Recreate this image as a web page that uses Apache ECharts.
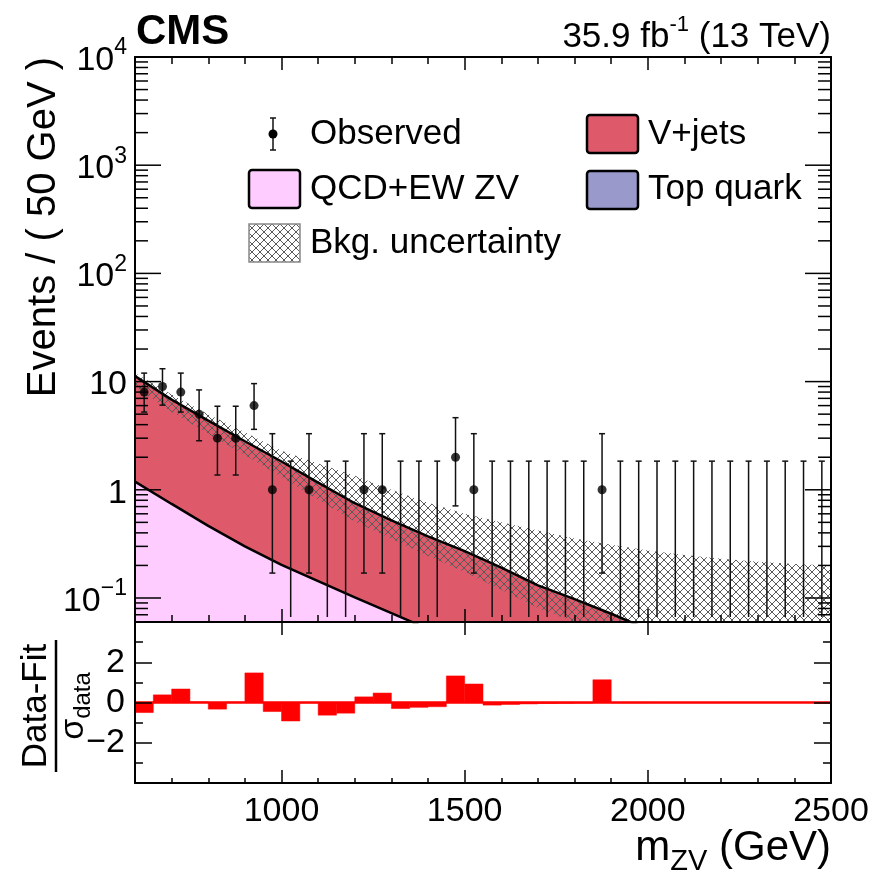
<!DOCTYPE html>
<html><head><meta charset="utf-8">
<script src="https://cdn.jsdelivr.net/npm/echarts@6/dist/echarts.min.js"></script>
<style>html,body{margin:0;padding:0;background:#fff}#c{width:876px;height:881px}</style>
</head><body><div id="c"></div><script>
// ---------------- data ----------------
const binWidth = 50;
const massBins = [625,675,725,775,825,875,925,975,1025,1075,1125,1175,1225,1275,1325,1375,1425,1475,1525,1575,1625,1675,1725,1775,1825,1875,1925,1975,2025,2075,2125,2175,2225,2275,2325,2375,2425,2475];
const observed = [8,9,8,5,3,3,6,1,0,1,0,0,1,1,0,0,0,2,1,0,0,0,0,0,0,1,0,0,0,0,0,0,0,0,0,0,0,0];
const obsErrLow = [5.23,6.06,5.23,2.84,1.37,1.37,3.62,0.17,0,0.17,0,0,0.17,0.17,0,0,0,0.71,0.17,0,0,0,0,0,0,0.17,0,0,0,0,0,0,0,0,0,0,0,0];
const obsErrHigh = [11.98,13.15,11.98,8.38,5.92,5.92,9.58,3.30,1.84,3.30,1.84,1.84,3.30,3.30,1.84,1.84,1.84,4.64,3.30,1.84,1.84,1.84,1.84,1.84,1.84,3.30,1.84,1.84,1.84,1.84,1.84,1.84,1.84,1.84,1.84,1.84,1.84,1.84];
const pullValues = [-0.5,0.38,0.67,0.03,-0.33,0.02,1.47,-0.45,-0.92,-0.02,-0.63,-0.53,0.28,0.47,-0.3,-0.24,-0.21,1.32,0.92,-0.13,-0.1,-0.07,-0.05,-0.04,-0.03,1.13,-0.02,-0.02,-0.01,-0.01,-0.01,-0.01,0,0,0,0,0,0];

const fitMass = [600,700,800,900,1000,1100,1200,1300,1400,1500,1600,1700,1800,1900,2000,2100,2200,2300,2400,2500];
const topQuark = [0.03,0.02,0.014,0.01,0.007,0.005,0.0035,0.0025,0.0018,0.0013,0.001,0.0008,0.0006,0.0005,0.0004,0.0003,0.00025,0.0002,0.00015,0.0001];
const qcdEwZV = [1.16,0.72,0.45,0.29,0.195,0.138,0.098,0.07,0.05,0.036,0.026,0.019,0.014,0.010,0.007,0.005,0.0037,0.0027,0.002,0.0014];
const vJets = [10.04,6.08,3.9,2.51,1.625,1.02,0.65,0.45,0.32,0.234,0.164,0.111,0.083,0.061,0.044,0.032,0.023,0.016,0.012,0.0086];
const bkgUncUp = [12.0,7.6,5.0,3.4,2.3,1.75,1.35,1.0,0.76,0.6,0.5,0.42,0.355,0.31,0.275,0.25,0.23,0.216,0.206,0.2];
const bkgUncDown = [8.9,5.25,3.3,2.1,1.32,0.81,0.51,0.355,0.245,0.174,0.119,0.081,0.059,0.042,0.03,0.021,0.015,0.011,0.008,0.006];

const xMajorTicks = [1000,1500,2000,2500];
const yMin = 0.06, yMax = 10000;

// ---------------- helpers ----------------
const FONT = '"Liberation Sans", Arial, Helvetica, sans-serif';
const zip = (xs, ys) => xs.map((x, i) => [x, ys[i]]);
const cumTop = topQuark.slice();
const cumZV = topQuark.map((t, i) => t + qcdEwZV[i]);
const cumTotal = cumZV.map((t, i) => t + vJets[i]);

function makeHatch() {
  const s = 8, c = document.createElement('canvas');
  c.width = s; c.height = s;
  const g = c.getContext('2d');
  g.strokeStyle = '#5a5a5a'; g.lineWidth = 1;
  g.beginPath(); g.moveTo(0, 0); g.lineTo(s, s); g.moveTo(s, 0); g.lineTo(0, s); g.stroke();
  return c;
}
const hatch = makeHatch();
const hatchFill = { image: hatch, repeat: 'repeat' };

const logTicks = [];
for (let k = -2; k <= 4; k++) {
  for (let m = 1; m <= 9; m++) {
    const v = m * Math.pow(10, k);
    if (v > yMin * 1.001 && v <= yMax * 1.0001) logTicks.push([600, v, m === 1 ? 1 : 0]);
  }
}

const chart = echarts.init(document.getElementById('c'), null, { renderer: 'canvas' });

const baseLine = { type: 'line', xAxisIndex: 0, yAxisIndex: 0, smooth: false, symbol: 'none', showSymbol: false, silent: true };
const tickStyle = { color: '#000', width: 1.5 };
const frameLine = { show: true, onZero: false, lineStyle: { color: '#000', width: 2 } };
const noLine = { show: false, onZero: false };

const xCommon = { type: 'value', min: 600, max: 2500, interval: 100, splitLine: { show: false }, z: 10 };

const option = {
  animation: false,
  backgroundColor: '#fff',
  grid: [
    { left: 135, top: 57, width: 696, height: 565 },
    { left: 135, top: 622, width: 696, height: 161 }
  ],
  xAxis: [
    { ...xCommon, gridIndex: 0, position: 'bottom', axisLine: frameLine,
      axisTick: { show: true, inside: true, length: 7, lineStyle: tickStyle }, axisLabel: { show: false } },
    { ...xCommon, gridIndex: 0, position: 'bottom', axisLine: noLine,
      axisTick: { show: true, inside: true, length: 13, customValues: xMajorTicks, lineStyle: tickStyle }, axisLabel: { show: false } },
    { ...xCommon, gridIndex: 0, position: 'top', axisLine: frameLine,
      axisTick: { show: true, inside: true, length: 7, lineStyle: tickStyle }, axisLabel: { show: false } },
    { ...xCommon, gridIndex: 0, position: 'top', axisLine: noLine,
      axisTick: { show: true, inside: true, length: 13, customValues: xMajorTicks, lineStyle: tickStyle }, axisLabel: { show: false } },
    { ...xCommon, gridIndex: 1, position: 'bottom', axisLine: frameLine,
      axisTick: { show: true, inside: true, length: 5, lineStyle: tickStyle }, axisLabel: { show: false } },
    { ...xCommon, gridIndex: 1, position: 'bottom', axisLine: noLine,
      axisTick: { show: true, inside: true, length: 13, customValues: xMajorTicks, lineStyle: tickStyle },
      axisLabel: { show: true, customValues: xMajorTicks, formatter: (v) => String(v), fontFamily: FONT, fontSize: 34, color: '#000', margin: 12 } },
    { ...xCommon, gridIndex: 1, position: 'top', axisLine: frameLine,
      axisTick: { show: true, inside: true, length: 13, customValues: xMajorTicks, lineStyle: tickStyle }, axisLabel: { show: false } }
  ],
  yAxis: [
    { type: 'log', gridIndex: 0, position: 'left', min: yMin, max: yMax, logBase: 10, z: 10,
      axisLine: frameLine, axisTick: { show: false }, splitLine: { show: false },
      axisLabel: {
        show: true, margin: 8, color: '#000', fontFamily: FONT, fontSize: 34,
        formatter: (v) => {
          const l = Math.log10(v), k = Math.round(l);
          if (Math.abs(l - k) > 1e-6) return '';
          if (k === 0) return '{b|1}';
          if (k === 1) return '{b|10}';
          return '{b|10}{sup|' + (k < 0 ? '\u2212' + (-k) : k) + '}';
        },
        rich: {
          b: { fontFamily: FONT, fontSize: 34, color: '#000', verticalAlign: 'top', padding: [7, 0, 0, 0] },
          sup: { fontFamily: FONT, fontSize: 23, color: '#000', verticalAlign: 'top' }
        }
      } },
    { type: 'log', gridIndex: 0, position: 'right', min: yMin, max: yMax, logBase: 10, z: 10,
      axisLine: frameLine, axisTick: { show: false }, splitLine: { show: false }, axisLabel: { show: false } },
    { type: 'value', gridIndex: 1, position: 'left', min: -4, max: 4, interval: 2, z: 10,
      axisLine: frameLine,
      axisTick: { show: true, inside: true, length: 17, lineStyle: tickStyle },
      minorTick: { show: true, splitNumber: 2, length: 8, lineStyle: tickStyle },
      splitLine: { show: false },
      axisLabel: { show: true, showMinLabel: false, showMaxLabel: false, margin: 10, color: '#000', fontFamily: FONT, fontSize: 34,
        formatter: (v) => (v < 0 ? '\u2212' + (-v) : String(v)) } },
    { type: 'value', gridIndex: 1, position: 'right', min: -4, max: 4, interval: 2, z: 10,
      axisLine: frameLine,
      axisTick: { show: true, inside: true, length: 17, lineStyle: tickStyle },
      minorTick: { show: true, splitNumber: 2, length: 8, lineStyle: tickStyle },
      splitLine: { show: false }, axisLabel: { show: false } }
  ],
  series: [
    // background areas (cumulative, drawn from the top of the stack down)
    { ...baseLine, name: 'V+jets', z: 2, data: zip(fitMass, cumTotal),
      lineStyle: { opacity: 0 }, areaStyle: { color: '#de5a6a', opacity: 1, origin: 'start' } },
    { ...baseLine, name: 'QCD+EW ZV', z: 2, data: zip(fitMass, cumZV),
      lineStyle: { opacity: 0 }, areaStyle: { color: '#ffccff', opacity: 1, origin: 'start' } },
    { ...baseLine, name: 'Top quark', z: 2, data: zip(fitMass, cumTop),
      lineStyle: { opacity: 0 }, areaStyle: { color: '#9999cc', opacity: 1, origin: 'start' } },
    // uncertainty band (hatched polygon between lower and upper edges)
    { type: 'custom', name: 'Bkg. uncertainty', xAxisIndex: 0, yAxisIndex: 0, z: 3, silent: true,
      data: [[fitMass[0], bkgUncUp[0]]], encode: { x: 0, y: 1 },
      renderItem: (params, api) => {
        const pts = [];
        for (let i = 0; i < fitMass.length; i++) pts.push(api.coord([fitMass[i], bkgUncUp[i]]));
        for (let i = fitMass.length - 1; i >= 0; i--) pts.push(api.coord([fitMass[i], Math.max(bkgUncDown[i], yMin)]));
        return { type: 'polygon', shape: { points: pts }, style: { fill: hatchFill } };
      } },
    // outlines
    { ...baseLine, name: 'o1', z: 4, data: zip(fitMass, cumZV), lineStyle: { color: '#000', width: 2.5 } },
    { ...baseLine, name: 'o2', z: 4, data: zip(fitMass, cumTotal), lineStyle: { color: '#000', width: 2.5 } },
    // error bars
    { type: 'custom', xAxisIndex: 0, yAxisIndex: 0, z: 5, silent: true,
      data: massBins.map((m, i) => [m, obsErrLow[i], obsErrHigh[i]]),
      encode: { x: 0, y: [1, 2] },
      renderItem: (params, api) => {
        const x = api.value(0), lo = api.value(1), hi = api.value(2);
        const cs = params.coordSys;
        const t = api.coord([x, hi]);
        const yb = lo > 0 ? api.coord([x, lo])[1] : cs.y + cs.height - 5;
        const st = { stroke: '#111', lineWidth: 1.5 };
        const ch = [
          { type: 'line', shape: { x1: t[0], y1: t[1], x2: t[0], y2: yb }, style: st },
          { type: 'line', shape: { x1: t[0] - 3, y1: t[1], x2: t[0] + 3, y2: t[1] }, style: st }
        ];
        if (lo > 0) ch.push({ type: 'line', shape: { x1: t[0] - 3, y1: yb, x2: t[0] + 3, y2: yb }, style: st });
        return { type: 'group', children: ch };
      } },
    // observed points
    { type: 'scatter', xAxisIndex: 0, yAxisIndex: 0, z: 6, symbol: 'circle', symbolSize: 9, silent: true,
      itemStyle: { color: '#000' },
      data: massBins.map((m, i) => [m, observed[i]]).filter(d => d[1] > 0) },
    // log-axis ticks (major + minor, both sides)
    { type: 'custom', xAxisIndex: 0, yAxisIndex: 0, z: 10, silent: true,
      data: logTicks, encode: { x: 0, y: 1 },
      renderItem: (params, api) => {
        const p = api.coord([api.value(0), api.value(1)]);
        const cs = params.coordSys;
        const len = api.value(2) ? 26 : 13;
        const st = { stroke: '#000', lineWidth: 1.5 };
        return { type: 'group', children: [
          { type: 'line', shape: { x1: cs.x, y1: p[1], x2: cs.x + len, y2: p[1] }, style: st },
          { type: 'line', shape: { x1: cs.x + cs.width - len, y1: p[1], x2: cs.x + cs.width, y2: p[1] }, style: st }
        ] };
      } },
    // pull histogram
    { type: 'custom', xAxisIndex: 4, yAxisIndex: 2, z: 3, silent: true,
      data: zip(massBins, pullValues), encode: { x: 0, y: 1 },
      renderItem: (params, api) => {
        const c = api.value(0), v = api.value(1);
        const a = api.coord([c - binWidth / 2, 0]), b = api.coord([c + binWidth / 2, v]);
        return { type: 'rect', shape: { x: a[0], y: Math.min(a[1], b[1]), width: b[0] - a[0], height: Math.abs(b[1] - a[1]) },
          style: { fill: '#ff0000', stroke: '#ff0000', lineWidth: 0.5 } };
      } },
    { type: 'line', xAxisIndex: 4, yAxisIndex: 2, z: 4, symbol: 'none', silent: true,
      data: [[600, 0], [2500, 0]], lineStyle: { color: '#ff0000', width: 2.5 } }
  ],
  graphic: [
    { type: 'text', z: 100, x: 136, y: 32, style: { text: 'CMS', font: 'bold 42px ' + FONT, fill: '#000', align: 'left', verticalAlign: 'middle' } },
    { type: 'text', z: 100, x: 831, y: 34, style: { text: '{b|35.9 fb}{sup|-1}{b| (13 TeV)}', align: 'right', verticalAlign: 'middle',
        rich: { b: { fontFamily: FONT, fontSize: 35, fill: '#000', verticalAlign: 'top', padding: [6, 0, 0, 0] },
                sup: { fontFamily: FONT, fontSize: 22, fill: '#000', verticalAlign: 'top' } } } },
    { type: 'text', z: 100, x: 44, y: 57, rotation: Math.PI / 2,
      style: { text: 'Events / ( 50 GeV )', font: '40px ' + FONT, fill: '#000', align: 'right', verticalAlign: 'middle' } },
    { type: 'text', z: 100, x: 831, y: 852, style: { text: '{b|m}{s|ZV}{b| (GeV)}', align: 'right', verticalAlign: 'middle',
        rich: { b: { fontFamily: FONT, fontSize: 42, fill: '#000', verticalAlign: 'top' },
                s: { fontFamily: FONT, fontSize: 29, fill: '#000', verticalAlign: 'top', padding: [20, 0, 0, 0] } } } },
    { type: 'group', z: 100, x: 56, y: 706, rotation: Math.PI / 2, children: [
      { type: 'text', x: 0, y: -2, style: { text: 'Data-Fit', font: '35px ' + FONT, fill: '#000', align: 'center', verticalAlign: 'bottom' } },
      { type: 'line', shape: { x1: -66, y1: 0, x2: 66, y2: 0 }, style: { stroke: '#000', lineWidth: 2.5 } },
      { type: 'text', x: 0, y: 1, style: { text: '{g|\u03c3}{s|data}', align: 'center', verticalAlign: 'top',
          rich: { g: { fontFamily: FONT, fontSize: 34, fill: '#000', verticalAlign: 'top' },
                  s: { fontFamily: FONT, fontSize: 24, fill: '#000', verticalAlign: 'top', padding: [14, 0, 0, 0] } } } }
    ] },
    // legend
    { type: 'line', z: 100, shape: { x1: 273, y1: 118, x2: 273, y2: 150 }, style: { stroke: '#111', lineWidth: 1.5 } },
    { type: 'line', z: 100, shape: { x1: 270, y1: 118, x2: 276, y2: 118 }, style: { stroke: '#111', lineWidth: 1.5 } },
    { type: 'line', z: 100, shape: { x1: 270, y1: 150, x2: 276, y2: 150 }, style: { stroke: '#111', lineWidth: 1.5 } },
    { type: 'circle', z: 100, shape: { cx: 273, cy: 134, r: 4.5 }, style: { fill: '#000' } },
    { type: 'text', z: 100, x: 310, y: 134, style: { text: 'Observed', font: '35px ' + FONT, fill: '#000', verticalAlign: 'middle' } },
    { type: 'rect', z: 100, shape: { x: 249, y: 170, width: 51, height: 38, r: 3 }, style: { fill: '#ffccff', stroke: '#000', lineWidth: 2.5 } },
    { type: 'text', z: 100, x: 310, y: 189, style: { text: 'QCD+EW ZV', font: '35px ' + FONT, fill: '#000', verticalAlign: 'middle' } },
    { type: 'rect', z: 100, shape: { x: 249, y: 224, width: 51, height: 38 }, style: { fill: hatchFill, stroke: '#888', lineWidth: 1.5 } },
    { type: 'text', z: 100, x: 310, y: 243, style: { text: 'Bkg. uncertainty', font: '35px ' + FONT, fill: '#000', verticalAlign: 'middle' } },
    { type: 'rect', z: 100, shape: { x: 587, y: 115, width: 51, height: 38, r: 3 }, style: { fill: '#de5a6a', stroke: '#000', lineWidth: 2.5 } },
    { type: 'text', z: 100, x: 648, y: 134, style: { text: 'V+jets', font: '35px ' + FONT, fill: '#000', verticalAlign: 'middle' } },
    { type: 'rect', z: 100, shape: { x: 587, y: 171, width: 51, height: 38, r: 3 }, style: { fill: '#9999cc', stroke: '#000', lineWidth: 2.5 } },
    { type: 'text', z: 100, x: 648, y: 189, style: { text: 'Top quark', font: '35px ' + FONT, fill: '#000', verticalAlign: 'middle' } }
  ]
};
chart.setOption(option);
</script></body></html>
